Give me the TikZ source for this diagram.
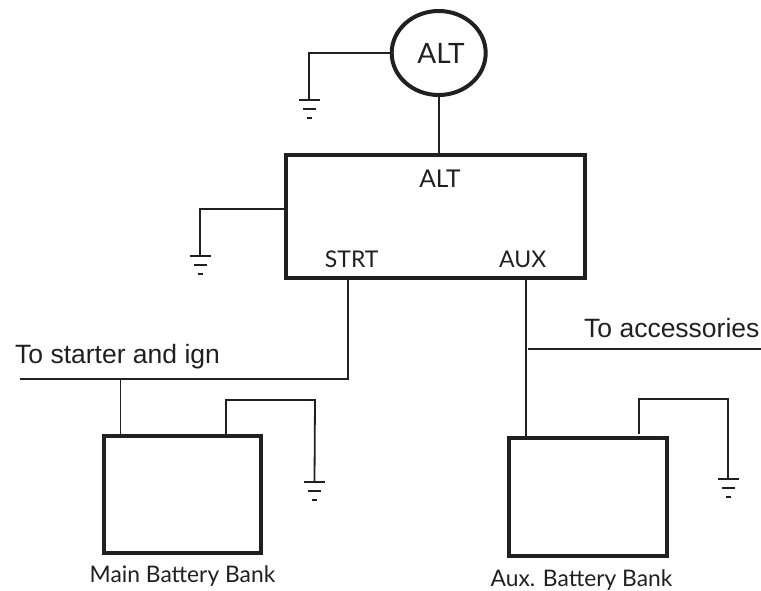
\documentclass[tikz,border=0pt]{standalone}
\usepackage{fontspec}
\setmainfont{Lato}
\newfontfamily\arialish{Liberation Sans}
\usetikzlibrary{shapes.geometric}
\definecolor{ink}{HTML}{231F20}
\tikzset{
  wire/.style={draw=ink,line width=1.8pt},
  boxshape/.style={draw=ink,line width=4pt,rectangle,inner sep=0pt,outer sep=0pt},
  gill/.style={text=ink,inner sep=0pt,anchor=base},
  helv/.style={text=ink,inner sep=0pt,anchor=base west,font=\arialish\fontsize{26.5}{26.5}\selectfont},
  ground/.pic={
    \draw[ink,line width=1.8pt] (-10.5,0) -- (10.5,0);
    \draw[ink,line width=1.8pt] (-6.5,9) -- (6.5,9);
    \draw[ink,line width=1.8pt] (-2.5,18) -- (2.5,18);
  }
}
\begin{document}
\begin{tikzpicture}[x=1pt,y=-1pt]
\useasboundingbox (0,0) rectangle (761,590);
% main shapes
\node[ellipse,draw=ink,line width=4pt,inner sep=0pt,outer sep=0pt,minimum width=94pt,minimum height=84pt] (gen) at (438.7,53) {};
\node[boxshape,minimum width=299pt,minimum height=123.5pt] (sw) at (435.5,216.3) {};
\node[boxshape,minimum width=157pt,minimum height=116.5pt] (mainb) at (182.5,494.3) {};
\node[boxshape,minimum width=158pt,minimum height=117.5pt] (auxb) at (588,496.8) {};
% labels
\node[gill,font=\fontsize{28}{28}\selectfont] (lgen) at (441,63) {ALT};
\node[gill,font=\fontsize{24.5}{24.5}\selectfont] (lalt) at (440,187.7) {ALT};
\node[gill,font=\fontsize{23}{23}\selectfont] (lstrt) at (351.7,267) {STRT};
\node[gill,font=\fontsize{23}{23}\selectfont] (laux) at (522.7,267) {AUX};
\node[helv] (lstart) at (15,363) {To starter and ign};
\node[helv] (lacc) at (584,337) {To accessories};
\node[gill,font=\fontsize{22.8}{22.8}\selectfont] (lmain) at (182.5,582.7) {Main Battery Bank};
\node[gill,font=\fontsize{22.8}{22.8}\selectfont] (lauxb) at (581.5,586) {Aux. Battery Bank};
% named ends
\coordinate (g1) at (309,100);
\coordinate (g2) at (200,256);
\coordinate (g3) at (314.5,481.7);
\coordinate (g4) at (728.3,479);
\coordinate (swl) at (sw.west |- 0,208.7);
\coordinate (strt) at (347.7,278);
\coordinate (aux) at (525.7,278);
\coordinate (busl) at (20,379.3);
\coordinate (busr) at (347.7,379.3);
\coordinate (mp) at (120.5,436);
\coordinate (mn) at (226,436);
\coordinate (ap) at (525.7,438);
\coordinate (an) at (639.3,434);
\coordinate (accl) at (528,349);
\coordinate (accr) at (761,349);
\coordinate (swtop) at (sw.north -| gen.south);
% connectors
\draw[wire] (gen.west) -| (g1);
\draw[wire] (gen.south) -- (swtop);
\draw[wire] (swl) -| (g2);
\draw[wire] (strt) -- (busr) -- (busl);
\draw[wire] (mp) -- (mp |- busl);
\draw[wire] (mn) |- (315,400) -- (g3);
\draw[wire] (aux) -- (ap);
\draw[wire] (accl) -- (accr);
\draw[wire] (an) |- (728.3,399) -- (g4);
% grounds
\pic at (g1) {ground};
\pic at (g2) {ground};
\pic at (g3) {ground};
\pic at (g4) {ground};
\end{tikzpicture}
\end{document}
